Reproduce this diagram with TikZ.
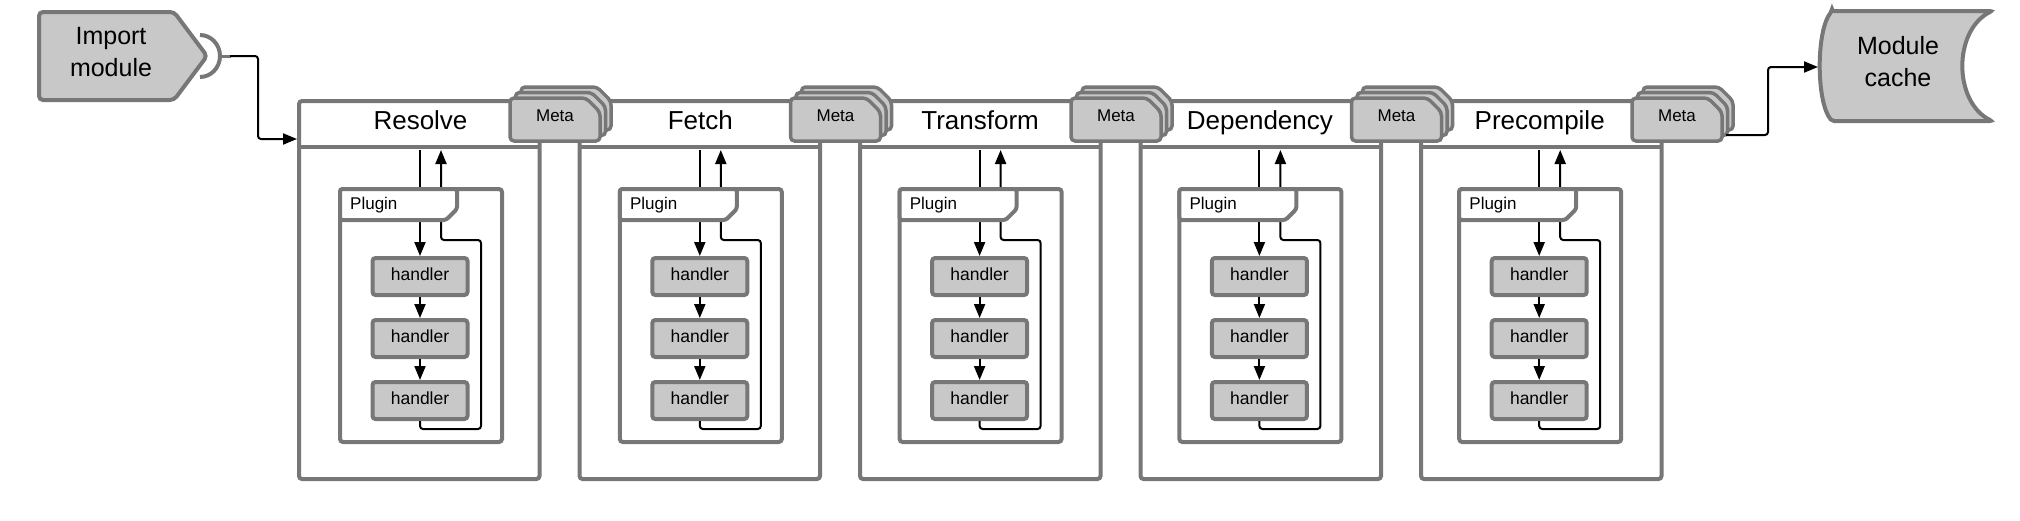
\documentclass[tikz,border=0pt]{standalone}
\usepackage{fontspec}
\setmainfont{Liberation Sans}
\usetikzlibrary{arrows.meta}
\definecolor{framegray}{HTML}{777777}
\definecolor{cardgray}{HTML}{C8C8C8}

\tikzset{stage box/.style={draw=framegray,line width=4pt,rounded corners=3pt,minimum width=240.5pt,minimum height=378pt,inner sep=0pt},
stage rule/.style={draw=framegray,line width=4pt},
stage title/.style={font=\fontsize{26}{30}\selectfont,anchor=base,inner sep=0pt},
plugin box/.style={draw=framegray,line width=4pt,rounded corners=3pt,minimum width=162pt,minimum height=253pt,inner sep=0pt},
plugin head/.style={draw=framegray,fill=white,line width=4pt,rounded corners=2.5pt},
plugin label/.style={font=\fontsize{17}{20}\selectfont,anchor=base west,inner sep=0pt},
handler/.style={draw=framegray,fill=cardgray,line width=4pt,rounded corners=3pt,minimum width=95pt,minimum height=37pt,inner sep=0pt,text depth=5pt,font=\fontsize{17.5}{20}\selectfont},
meta card/.style={draw=framegray,fill=cardgray,line width=3.5pt,rounded corners=4pt},
meta label/.style={font=\fontsize{17}{20}\selectfont,anchor=base,inner sep=0pt},
end shape/.style={draw=framegray,fill=cardgray,line width=4pt,rounded corners=4pt},
big label/.style={font=\fontsize{25}{32}\selectfont,align=center,inner sep=0pt},
link/.style={line width=2pt,rounded corners=3pt,-{Triangle[length=14pt,width=11pt]}}}

\begin{document}
\begin{tikzpicture}[x=1pt,y=-1pt]
\useasboundingbox (0,0) rectangle (2020,520);

%% stage frames, plugin and handlers
\foreach \name [count=\i from 0] in {Resolve,Fetch,Transform,Dependency,Precompile}{
  \pgfmathsetmacro\L{299+280.5*\i}
  \pgfmathsetmacro\C{420+279.8*\i}
  \node [stage box] (st\i) at (\L+120.25,290) {};
  \draw [stage rule] (\L,147) -- (\L+240.5,147);
  \node [stage title] (t\i) at (\C+0.5,129.5) {\name};
  \node [plugin box] (pl\i) at (\C+1,315.5) {};
  \node [handler] (ha\i) at (\C,276.5) {handler};
  \node [handler] (hb\i) at (\C,338.5) {handler};
  \node [handler] (hc\i) at (\C,400.5) {handler};
  % calls in and back out
  \coordinate (in\i) at (\C,150);
  \coordinate (out\i) at (\C+21,150);
  \draw [link] (in\i) -- (ha\i.north);
  \draw [link] (ha\i.south) -- (hb\i.north);
  \draw [link] (hb\i.south) -- (hc\i.north);
  \draw [link] (hc\i.south) |- (\C+61,429) -- (\C+61,240) -| (out\i);
  \draw [plugin head] (\C-80,189) -- (\C+37,189) -- (\C+37,209) -- (\C+26,220) -- (\C-80,220) -- cycle;
  \node [plugin label] (pn\i) at (\C-70,209) {Plugin};
}

%% meta stacks
\foreach \i in {0,...,4}{
  \pgfmathsetmacro\L{299+280.5*\i}
  \foreach \k in {11,5.5,0}{
    \draw [meta card] (\L+211+\k,141-\k) -- (\L+211+\k,98-\k) -- (\L+287+\k,98-\k) -- (\L+301+\k,112-\k) -- (\L+301+\k,141-\k) -- cycle;
  }
  \node [meta label] (meta\i) at (\L+256,121.5) {Meta};
}

%% import module
\draw [end shape] (39,12) -- (174,12) -- (207,56) -- (174,100) -- (39,100) -- cycle;
\node [big label] (imp) at (111,52) {Import\\module};
\draw [framegray,line width=4pt] (200,35) arc[start angle=-90,end angle=90,x radius=20,y radius=21];
\draw [framegray,line width=3pt] (220,56) -- (231,56);
\coordinate (sock) at (230,56);
\coordinate (entry) at (297,139);
\draw [link] (sock) -- (258,56) -- (258,139) -- (entry);

%% module cache
\draw [end shape,rounded corners=2pt] (1832,11) -- (1992,11) .. controls (1953,30) and (1953,102) .. (1992,121) -- (1832,121) .. controls (1816,102) and (1816,30) .. (1832,11) -- cycle;
\node [big label] (cache) at (1898,62) {Module\\cache};
\coordinate (exit) at (1726,135);
\coordinate (cachein) at (1818,67);
\draw [link] (exit) -- (1768,135) -- (1768,67) -- (cachein);

\end{tikzpicture}
\end{document}
